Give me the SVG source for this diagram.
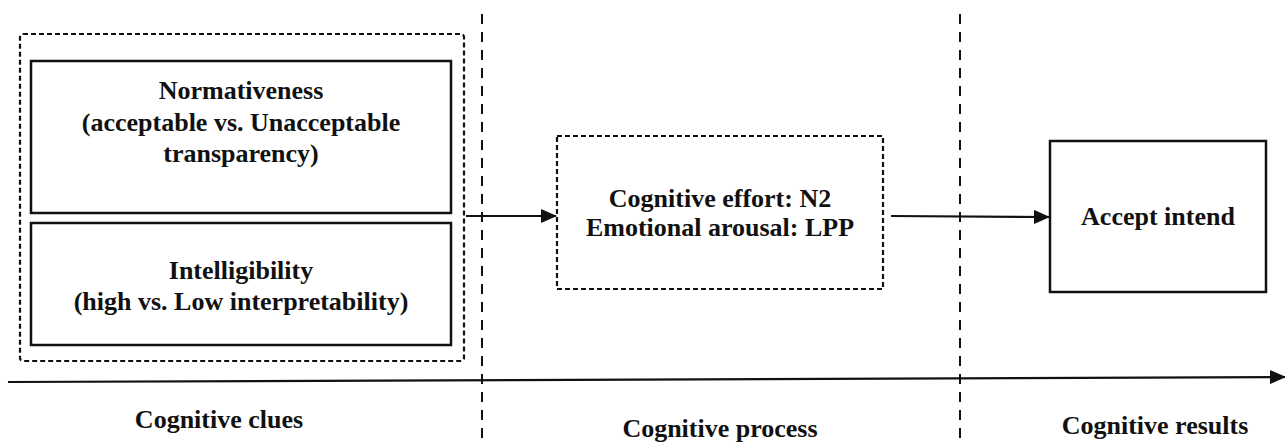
<svg xmlns="http://www.w3.org/2000/svg" width="1285" height="444" viewBox="0 0 1285 444">
<style>
.t{font-family:"Liberation Serif","Times New Roman",serif;font-weight:bold;font-size:26px;fill:#111;text-anchor:middle}
.solid{fill:#fff;stroke:#111;stroke-width:2.5}
.dbox{fill:none;stroke:#111;stroke-width:2.2;stroke-dasharray:5 3}
.vline{stroke:#111;stroke-width:2;stroke-dasharray:10 8}
.conn{stroke:#111;stroke-width:2.2;fill:none}
</style>
<defs>
<marker id="ah" viewBox="0 0 16 14" refX="15" refY="7" markerWidth="16" markerHeight="14" markerUnits="userSpaceOnUse" orient="auto">
<path d="M0,0 L16,7 L0,14 z" fill="#111"/>
</marker>
</defs>
<rect width="1285" height="444" fill="#fff"/>
<g id="dividers">
<line class="vline" x1="482" y1="14" x2="482" y2="444"/>
<line class="vline" x1="960" y1="14" x2="960" y2="444"/>
</g>
<g id="clues">
<rect class="dbox" x="20" y="34" width="444" height="327" rx="3"/>
</g>
<g id="normativeness">
<rect class="solid" x="31" y="61" width="420" height="152"/>
<text class="t" x="241" y="99">Normativeness</text>
<text class="t" x="241" y="131">(acceptable vs. Unacceptable</text>
<text class="t" x="241" y="162">transparency)</text>
</g>
<g id="intelligibility">
<rect class="solid" x="31" y="223" width="420" height="122"/>
<text class="t" x="241" y="279">Intelligibility</text>
<text class="t" x="241" y="310">(high vs. Low interpretability)</text>
</g>
<g id="process">
<rect class="dbox" x="557" y="136" width="326" height="153"/>
<text class="t" x="720" y="207">Cognitive effort: N2</text>
<text class="t" x="720" y="236">Emotional arousal: LPP</text>
</g>
<g id="result">
<rect class="solid" x="1050" y="141" width="216" height="151"/>
<text class="t" x="1158" y="225">Accept intend</text>
</g>
<g id="connectors">
<line class="conn" x1="466" y1="216" x2="556" y2="216" marker-end="url(#ah)"/>
<line class="conn" x1="891" y1="216" x2="1049" y2="217" marker-end="url(#ah)"/>
<line class="conn" x1="8" y1="382" x2="1285" y2="377" marker-end="url(#ah)"/>
</g>
<g id="labels">
<text class="t" x="219" y="428">Cognitive clues</text>
<text class="t" x="720" y="437">Cognitive process</text>
<text class="t" x="1155" y="434">Cognitive results</text>
</g>
</svg>
